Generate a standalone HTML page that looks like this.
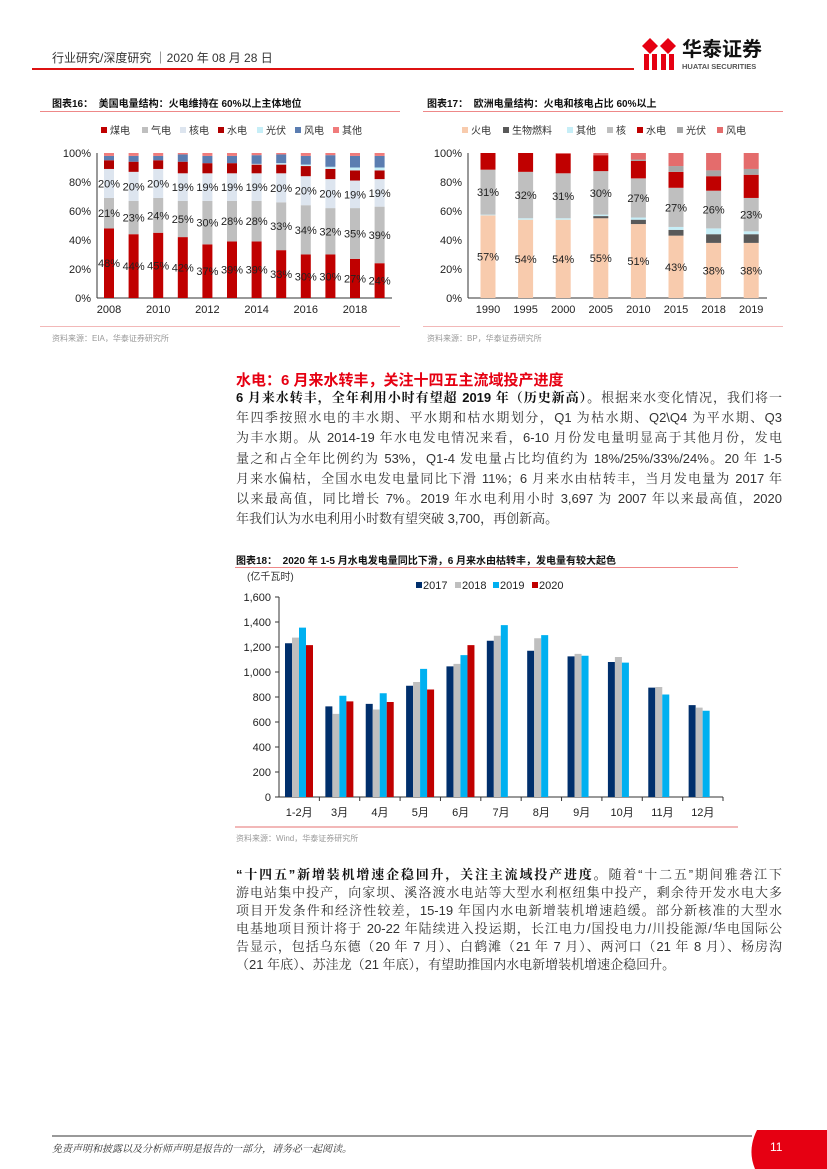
<!DOCTYPE html>
<html><head><meta charset="utf-8">
<style>
body{margin:0;background:#fff;}
#page{position:relative;width:827px;height:1169px;overflow:hidden;background:#fff;font-family:"Liberation Sans","Noto Sans CJK SC",sans-serif;color:#222;}
.abs{position:absolute;}
.ln{position:absolute;left:236px;width:546px;font-size:13px;line-height:16px;text-align:justify;text-align-last:justify;white-space:nowrap;font-family:"Liberation Sans","Noto Serif CJK SC",serif;color:#333;}
.ttl{position:absolute;font-size:10px;font-weight:bold;color:#111;}
.src{position:absolute;font-size:8px;color:#999;}
svg text{font-family:"Liberation Sans","Noto Sans CJK SC",sans-serif;}
</style></head>
<body>
<div id="page">
  <div class="abs" style="left:52px;top:49px;font-size:12px;color:#333;">行业研究/深度研究 ｜2020 年 08 月 28 日</div>
  <div class="abs" style="left:32px;top:68px;width:602px;height:2px;background:#d11;"></div>
  <svg class="abs" style="left:642px;top:36px" width="140" height="36">
    <polygon points="0,10 8,2 16,10 8,18" fill="#e60012"/>
    <polygon points="18,10 26,2 34,10 26,18" fill="#e60012"/>
    <rect x="2" y="18" width="5" height="16" fill="#e60012"/><rect x="10" y="18" width="5" height="16" fill="#e60012"/>
    <rect x="19" y="18" width="5" height="16" fill="#e60012"/><rect x="27" y="18" width="5" height="16" fill="#e60012"/>
    <text x="40" y="20" font-size="20" font-weight="bold" fill="#111">华泰证券</text>
    <text x="40" y="33" font-size="7.5" font-weight="bold" fill="#555">HUATAI SECURITIES</text>
  </svg>

  <div class="ttl" style="left:52px;top:95px;">图表16：&nbsp;&nbsp;美国电量结构：火电维持在 60%以上主体地位</div>
  <div class="abs" style="left:40px;top:111px;width:360px;height:1px;background:#e88;"></div>
  <svg id="c16" class="abs" style="left:40px;top:115px" width="370" height="210"></svg>
  <div class="abs" style="left:40px;top:326px;width:360px;height:1px;background:#f2b8b8;"></div>
  <div class="src" style="left:52px;top:333px;">资料来源：EIA，华泰证券研究所</div>

  <div class="ttl" style="left:427px;top:95px;">图表17：&nbsp;&nbsp;欧洲电量结构：火电和核电占比 60%以上</div>
  <div class="abs" style="left:423px;top:111px;width:360px;height:1px;background:#e88;"></div>
  <svg id="c17" class="abs" style="left:415px;top:115px" width="375" height="210"></svg>
  <div class="abs" style="left:423px;top:326px;width:360px;height:1px;background:#f2b8b8;"></div>
  <div class="src" style="left:427px;top:333px;">资料来源：BP，华泰证券研究所</div>

  <div class="abs" style="left:236px;top:369px;font-size:15px;font-weight:bold;color:#e60012;">水电：6 月来水转丰，关注十四五主流域投产进度</div>
  <div class="ln" style="top:390px;"><b style="color:#111">6 月来水转丰，全年利用小时有望超 2019 年（历史新高）。</b>根据来水变化情况，我们将一</div>
  <div class="ln" style="top:410.2px;">年四季按照水电的丰水期、平水期和枯水期划分，Q1 为枯水期、Q2\Q4 为平水期、Q3</div>
  <div class="ln" style="top:430.4px;">为丰水期。从 2014-19 年水电发电情况来看，6-10 月份发电量明显高于其他月份，发电</div>
  <div class="ln" style="top:450.6px;">量之和占全年比例约为 53%，Q1-4 发电量占比均值约为 18%/25%/33%/24%。20 年 1-5</div>
  <div class="ln" style="top:470.8px;">月来水偏枯，全国水电发电量同比下滑 11%；6 月来水由枯转丰，当月发电量为 2017 年</div>
  <div class="ln" style="top:491px;">以来最高值，同比增长 7%。2019 年水电利用小时 3,697 为 2007 年以来最高值，2020</div>
  <div class="ln" style="top:511.2px;text-align-last:left;">年我们认为水电利用小时数有望突破 3,700，再创新高。</div>

  <div class="ttl" style="left:236px;top:552px;">图表18：&nbsp;&nbsp;2020 年 1-5 月水电发电量同比下滑，6 月来水由枯转丰，发电量有较大起色</div>
  <div class="abs" style="left:235px;top:567px;width:503px;height:1px;background:#e88;"></div>
  <svg id="c18" class="abs" style="left:225px;top:568px" width="520" height="256"></svg>
  <div class="abs" style="left:235px;top:826px;width:503px;height:2px;background:#f2b8b8;"></div>
  <div class="src" style="left:236px;top:833px;">资料来源：Wind，华泰证券研究所</div>

  <div class="ln" style="top:867px;"><b style="color:#111">“十四五”新增装机增速企稳回升，关注主流域投产进度。</b>随着“十二五”期间雅砻江下</div>
  <div class="ln" style="top:885px;">游电站集中投产，向家坝、溪洛渡水电站等大型水利枢纽集中投产，剩余待开发水电大多</div>
  <div class="ln" style="top:903px;">项目开发条件和经济性较差，15-19 年国内水电新增装机增速趋缓。部分新核准的大型水</div>
  <div class="ln" style="top:921px;">电基地项目预计将于 20-22 年陆续进入投运期，长江电力/国投电力/川投能源/华电国际公</div>
  <div class="ln" style="top:939px;">告显示，包括乌东德（20 年 7 月）、白鹤滩（21 年 7 月）、两河口（21 年 8 月）、杨房沟</div>
  <div class="ln" style="top:957px;text-align-last:left;">（21 年底）、苏洼龙（21 年底），有望助推国内水电新增装机增速企稳回升。</div>

  <div class="abs" style="left:52px;top:1135px;width:700px;height:2px;background:#999;"></div>
  <div class="abs" style="left:52px;top:1140px;font-size:10px;font-style:italic;color:#333;font-family:'Liberation Serif','Noto Serif CJK SC',serif;">免责声明和披露以及分析师声明是报告的一部分，请务必一起阅读。</div>
  <svg class="abs" style="left:745px;top:1130px" width="82" height="39">
    <path d="M12,0 H82 V39 H10 Q2,20 12,0 Z" fill="#e60012"/>
    <text x="25" y="21" font-size="12" fill="#fff">11</text>
  </svg>
</div>

<script>
const NS='http://www.w3.org/2000/svg';
function mk(parent,tag,attrs,txt){const e=document.createElementNS(NS,tag);for(const k in attrs)e.setAttribute(k,attrs[k]);if(txt!==undefined)e.textContent=txt;parent.appendChild(e);return e;}

/* ---------- Chart 16 data ---------- */
const usYears=['2008','2009','2010','2011','2012','2013','2014','2015','2016','2017','2018','2019'];
const usSeriesNames=['煤电','气电','核电','水电','光伏','风电','其他'];
const usCoal=[48,44,45,42,37,39,39,33,30,30,27,24];
const usGas=[21,23,24,25,30,28,28,33,34,32,35,39];
const usNuclear=[20,20,20,19,19,19,19,20,20,20,19,19];
const usHydro=[6,7,6,8,7,7,6,6,7,7,7,6];
const usSolar=[0,0,0,0,0,0,0.5,1,1,1.5,2,2];
const usWind=[3,4,3,5,5,5,6,6,6,8,8,8];
const usOther=[2,2,2,1,2,2,1.5,1,2,1.5,2,2];
const usTicks=['0%','20%','40%','60%','80%','100%'];

/* ---------- Chart 17 data ---------- */
const euYears=['1990','1995','2000','2005','2010','2015','2018','2019'];
const euSeriesNames=['火电','生物燃料','其他','核','水电','光伏','风电'];
const euFire=[57,54,54,55,51,43,38,38];
const euBio=[0,0,0,1.5,3,4,6,6];
const euOther=[0.5,1,1,1,1.5,2,4,2];
const euNuclear=[31,32,31,30,27,27,26,23];
const euHydro=[11.5,13,13.5,11,12,11,10,16];
const euSolar=[0,0,0,0,1,4,4,4];
const euWind=[0,0,0.5,1.5,4.5,9,12,11];

/* ---------- Chart 18 data ---------- */
const months=['1-2月','3月','4月','5月','6月','7月','8月','9月','10月','11月','12月'];
const gen2017=[1230,725,745,890,1045,1250,1170,1125,1080,875,735];
const gen2018=[1275,665,700,920,1065,1290,1270,1145,1120,880,715];
const gen2019=[1355,810,830,1025,1135,1375,1295,1130,1075,820,690];
const gen2020=[1215,765,760,860,1215];
const genTicks=[0,200,400,600,800,1000,1200,1400,1600];
const genYears=['2017','2018','2019','2020'];

function stacked(svg,cfg){
  const {cats,series,colors,names,labelIdx,x0,x1,yTop,yBot,c0,step,bw,legendX,legendY,prefix}=cfg;
  const y=v=>yBot-(v/100)*(yBot-yTop);
  usTicks.forEach((t,i)=>{
    const tl=mk(svg,'text',{x:x0-6,y:y(i*20)+4,'font-size':11,'text-anchor':'end',fill:'#222'},t);
    
    
  });
  const ax=mk(svg,'line',{x1:x0,x2:x0,y1:yTop,y2:yBot,stroke:'#333','stroke-width':1});
  
  
  const xa=mk(svg,'line',{x1:x0,x2:x1,y1:yBot,y2:yBot,stroke:'#333','stroke-width':1});
  
  
  cats.forEach((c,i)=>{
    const cx=c0+i*step;
    let acc=0;
    series.forEach((s,k)=>{
      const v=s[i];
      if(v>0){
        const r=mk(svg,'rect',{x:cx-bw/2,y:y(acc+v),width:bw,height:y(acc)-y(acc+v),fill:colors[k]});
        
        
      }
      if(labelIdx.includes(k)){
        const t=mk(svg,'text',{x:cx,y:y(acc+v/2)+4,'font-size':11,'text-anchor':'middle',fill:'#222'},Math.round(v)+'%');
        
        
      }
      acc+=v;
    });
    if(cfg.everyLabel||i%2===0){
      const xl=mk(svg,'text',{x:cx,y:yBot+15,'font-size':11,'text-anchor':'middle',fill:'#222'},c);
      
      
    }
  });
  names.forEach((n,k)=>{
    const lx=legendX[k];
    const sq=mk(svg,'rect',{x:lx,y:legendY-7,width:6,height:6,fill:colors[k]});
    
    
    const lt=mk(svg,'text',{x:lx+9,y:legendY,'font-size':10,fill:'#333'},n);
    
    
  });
}

stacked(document.getElementById('c16'),{
  cats:usYears,series:[usCoal,usGas,usNuclear,usHydro,usSolar,usWind,usOther],
  colors:['#c00000','#bfbfbf','#dde5ef','#b00000','#c6eef7','#5b7db1','#f07b7b'],
  names:usSeriesNames,labelIdx:[0,1,2],x0:57,x1:352,yTop:38,yBot:183,c0:69,step:24.6,bw:10,
  legendX:[61,102,140,178,217,255,293],legendY:19,prefix:'us'
});
stacked(document.getElementById('c17'),{
  cats:euYears,series:[euFire,euBio,euOther,euNuclear,euHydro,euSolar,euWind],
  colors:['#f8cbad','#595959','#c6eef7','#bfbfbf','#c00000','#a6a6a6','#e46c6c'],
  names:euSeriesNames,labelIdx:[0,3],x0:53,x1:352,yTop:38,yBot:183,c0:73,step:37.6,bw:15,
  legendX:[47,88,152,192,222,262,302],legendY:19,prefix:'eu',everyLabel:true
});

/* chart 18 */
(function(){
  const svg=document.getElementById('c18');
  const x0=54,x1=498,yTop=29,yBot=229;
  const y=v=>yBot-(v/1600)*(yBot-yTop);
  const gw=(x1-x0)/months.length, bw=7;
  const colors=['#002f6c','#bfbfbf','#00b0f0','#c00000'];
  const series=[gen2017,gen2018,gen2019,gen2020];
  const u=mk(svg,'text',{x:22,y:12,'font-size':10,fill:'#333'},'(亿千瓦时)');
  
  
  genTicks.forEach(t=>{
    const tl=mk(svg,'text',{x:x0-8,y:y(t)+4,'font-size':11,'text-anchor':'end',fill:'#222'},t.toLocaleString('en-US'));
    
    
    const tk=mk(svg,'line',{x1:x0-4,x2:x0,y1:y(t),y2:y(t),stroke:'#333'});
    
    
  });
  const ya=mk(svg,'line',{x1:x0,x2:x0,y1:yTop,y2:yBot,stroke:'#333'});
  
  
  const xa=mk(svg,'line',{x1:x0,x2:x1,y1:yBot,y2:yBot,stroke:'#333'});
  
  
  months.forEach((m,i)=>{
    const gx=x0+i*gw;
    const tk=mk(svg,'line',{x1:gx+gw,x2:gx+gw,y1:yBot,y2:yBot+4,stroke:'#333'});
    
    
    series.forEach((s,k)=>{
      if(s[i]===undefined)return;
      const r=mk(svg,'rect',{x:gx+6+k*bw,y:y(s[i]),width:bw,height:yBot-y(s[i]),fill:colors[k]});
      
      
    });
    const xl=mk(svg,'text',{x:gx+gw/2,y:yBot+19,'font-size':11,'text-anchor':'middle',fill:'#222'},m);
    
    
  });
  const lx=[191,230,268,307];
  genYears.forEach((g,k)=>{
    const sq=mk(svg,'rect',{x:lx[k],y:14,width:6,height:6,fill:colors[k]});
    
    
    const lt=mk(svg,'text',{x:lx[k]+7,y:21,'font-size':11,fill:'#222'},g);
    
    
  });
})();
</script>
</body></html>
